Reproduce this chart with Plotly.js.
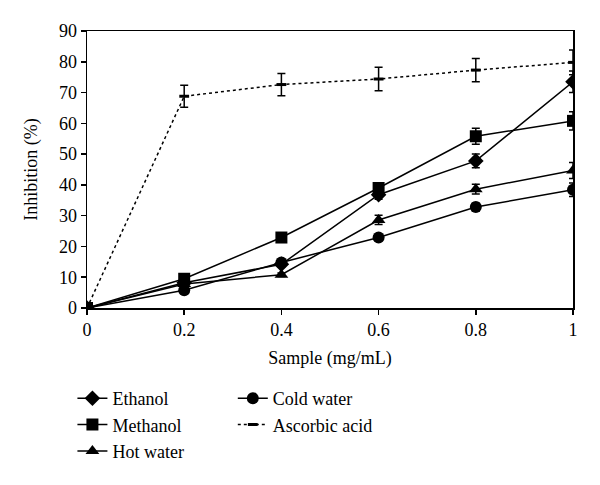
<!DOCTYPE html>
<html><head><meta charset="utf-8">
<script src="https://cdn.plot.ly/plotly-3.0.1.min.js"></script>
<style>body{margin:0;background:#fff}</style>
</head><body><div id="chart" style="width:600px;height:485px"></div>
<script>
const xs = [0, 0.2, 0.4, 0.6, 0.8, 1];
const ethanol = [0, 8.2, 14.2, 36.8, 47.8, 73.5];
const ethanolErr = [0, 0.6, 0.8, 1.5, 2.2, 3.5];
const methanol = [0, 9.5, 22.9, 39.0, 55.8, 60.8];
const methanolErr = [0, 0.6, 0.8, 1.2, 2.6, 3.0];
const hotWater = [0, 7.8, 10.8, 28.6, 38.6, 44.7];
const hotWaterErr = [0, 0.5, 0.6, 1.5, 1.6, 2.6];
const coldWater = [0, 5.8, 14.8, 22.9, 32.8, 38.4];
const coldWaterErr = [0, 0.5, 0.6, 0.8, 1.2, 2.2];
const ascorbic = [0, 68.8, 72.6, 74.4, 77.3, 79.8];
const ascorbicErr = [0, 3.6, 3.6, 3.8, 3.8, 4.0];
const xTicks = [0, 0.2, 0.4, 0.6, 0.8, 1];
const xTickText = ['0', '0.2', '0.4', '0.6', '0.8', '1'];
const yTicks = [0, 10, 20, 30, 40, 50, 60, 70, 80, 90];

const font = 'Liberation Serif';
function err(a){return {type:'data', array:a, visible:true, color:'#000', thickness:1.5, width:4};}
function solid(name, y, e, sym, size, legend){
  return {x:xs, y:y, name:name, type:'scatter', mode:'lines+markers', legend:legend,
    line:{color:'#000', width:1.5}, marker:{symbol:sym, size:size, color:'#000'}, error_y:err(e)};
}
const traces = [
  solid('Ethanol', ethanol, ethanolErr, 'diamond', 12, 'legend'),
  solid('Methanol', methanol, methanolErr, 'square', 12, 'legend'),
  solid('Hot water', hotWater, hotWaterErr, 'triangle-up', 12, 'legend'),
  solid('Cold water', coldWater, coldWaterErr, 'circle', 12, 'legend2'),
  {x:xs, y:ascorbic, name:'Ascorbic acid', type:'scatter', mode:'lines+markers', legend:'legend2',
   line:{color:'#000', width:1.5, dash:'dot'}, marker:{symbol:'line-ew', size:7, color:'#000', line:{color:'#000', width:3}},
   error_y:err(ascorbicErr)}
];
const legendCommon = {orientation:'v', xanchor:'left', yanchor:'top', font:{family:font, size:18, color:'#000'},
  bgcolor:'rgba(0,0,0,0)', itemwidth:30, tracegroupgap:0};
const layout = {
  width:600, height:485,
  margin:{l:87, r:27, t:31, b:177},
  paper_bgcolor:'#fff', plot_bgcolor:'#fff',
  font:{family:font, size:18, color:'#000'},
  showlegend:true,
  xaxis:{range:[0,1], tickvals:xTicks, ticktext:xTickText, ticks:'outside', ticklen:5, tickwidth:1.5, tickcolor:'#000',
    showline:true, linecolor:'#000', linewidth:1.5, mirror:true, showgrid:false, zeroline:false,
    tickfont:{family:font, size:18}, title:{text:'Sample (mg/mL)', font:{family:font, size:18}, standoff:12}},
  yaxis:{range:[0,90], tickvals:yTicks, ticks:'outside', ticklen:5, tickwidth:1.5, tickcolor:'#000',
    showline:true, linecolor:'#000', linewidth:1.5, mirror:true, showgrid:false, zeroline:false,
    tickfont:{family:font, size:18}, title:{text:'Inhibition (%)', font:{family:font, size:18}, standoff:16}},
  legend:Object.assign({}, legendCommon, {x:-0.03, y:-0.26}),
  legend2:Object.assign({}, legendCommon, {x:0.30, y:-0.26})
};
Plotly.newPlot('chart', traces, layout, {displayModeBar:false, staticPlot:true});
</script></body></html>
